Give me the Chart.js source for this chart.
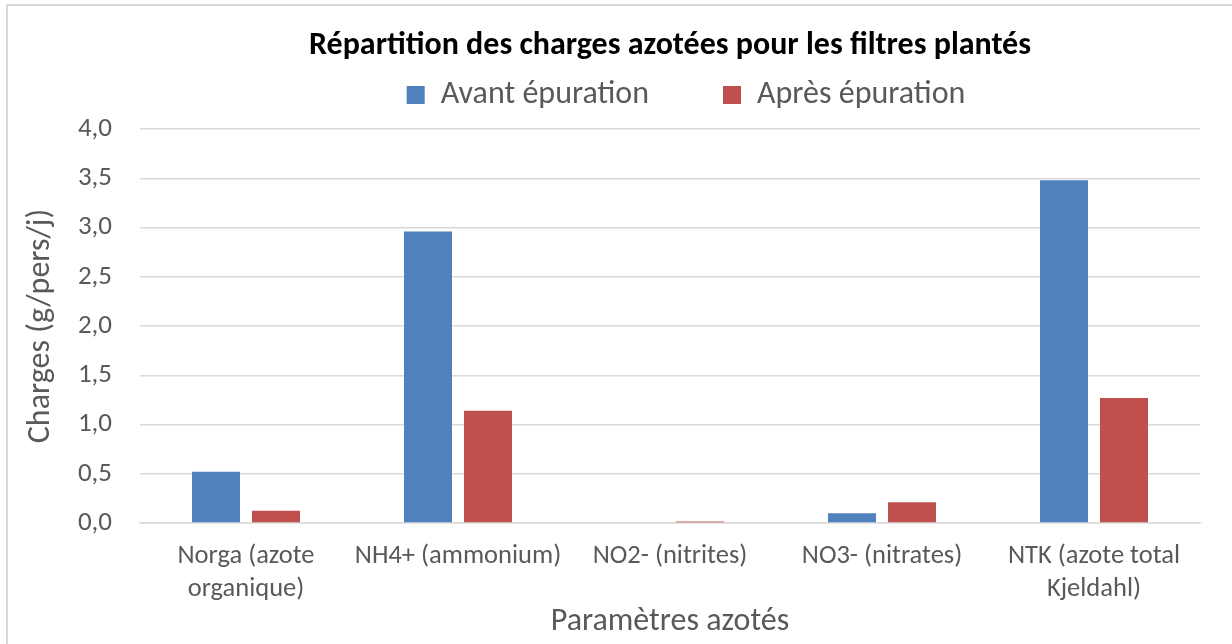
<!DOCTYPE html>
<html>
<head>
<meta charset="utf-8">
<script src="https://cdn.jsdelivr.net/npm/chart.js@4/dist/chart.umd.min.js"></script>
<style>
  body { margin: 0; background: #fff; }
  #wrap { position: relative; width: 1232px; height: 644px; overflow: hidden; }
  #frame { position: absolute; left: 6px; top: 4px; width: 1260px; height: 700px;
           border: 2px solid #d9d9d9; pointer-events: none; }
</style>
</head>
<body>
<div id="wrap">
  <canvas id="chart" width="1232" height="644"></canvas>
  <div id="frame"></div>
</div>
<script>
// données
const categories = [
  ['Norga (azote', 'organique)'],
  'NH4+ (ammonium)',
  'NO2- (nitrites)',
  'NO3- (nitrates)',
  ['NTK (azote total', 'Kjeldahl)']
];
const avantEpuration = [0.52, 2.96, 0, 0.10, 3.48];
const apresEpuration = [0.125, 1.14, 0.015, 0.21, 1.27];
const yTicks = [0, 0.5, 1, 1.5, 2, 2.5, 3, 3.5, 4];

const FONT = 'Carlito, Calibri, Lato, sans-serif';
const GREY = '#595959';

// remonte un peu la légende au-dessus de la zone de tracé
const legendShift = {
  id: 'legendShift',
  afterLayout(chart) {
    const lg = chart.legend;
    if (!lg) return;
    lg.top -= 8; lg.bottom -= 8;
    lg.left += 16; lg.right += 16;
  }
};

const ctx = document.getElementById('chart').getContext('2d');

new Chart(ctx, {
  type: 'bar',
  data: {
    labels: categories,
    datasets: [
      {
        label: 'Avant épuration',
        data: avantEpuration,
        backgroundColor: '#4f81bd',
        borderWidth: 0,
        categoryPercentage: 0.566,
        barPercentage: 0.8,
      },
      {
        label: 'Après épuration',
        data: apresEpuration,
        backgroundColor: '#c0504d',
        borderWidth: 0,
        categoryPercentage: 0.566,
        barPercentage: 0.8,
      },
    ],
  },
  plugins: [legendShift],
  options: {
    responsive: false,
    animation: false,
    layout: { padding: { left: 14, right: 32, top: 0, bottom: 6 } },
    plugins: {
      tooltip: { enabled: false },
      title: {
        display: true,
        text: 'Répartition des charges azotées pour les filtres plantés',
        color: '#000',
        fullSize: false,
        font: { family: FONT, size: 32, weight: 'bold', lineHeight: 1.2 },
        padding: { top: 26.8, bottom: 11.8 },
      },
      legend: {
        display: true,
        fullSize: false,
        labels: {
          color: GREY,
          boxWidth: 18,
          boxHeight: 18,
          padding: 10,
          font: { family: FONT, size: 32 },
          generateLabels(chart) {
            const items = Chart.defaults.plugins.legend.labels.generateLabels(chart);
            // écart entre les deux entrées de la légende
            items[0].text = items[0].text + '\u2003\u2003';
            items.forEach(it => { it.lineWidth = 0; });
            return items;
          },
        },
      },
    },
    scales: {
      x: {
        afterFit(scale) { scale.height = 115; },
        grid: { display: false, drawTicks: false },
        border: { display: true, color: '#d9d9d9', width: 1.5 },
        ticks: {
          color: GREY,
          autoSkip: false,
          maxRotation: 0,
          padding: 17,
          font: { family: FONT, size: 26.5, lineHeight: 1.24 },
        },
        title: {
          display: true,
          text: 'Paramètres azotés',
          color: GREY,
          font: { family: FONT, size: 32, lineHeight: 1.0 },
          padding: { top: 0, bottom: 0 },
        },
      },
      y: {
        min: 0,
        max: 4,
        afterFit(scale) { scale.width = 126; },
        afterBuildTicks(scale) { scale.ticks = yTicks.map(v => ({ value: v })); },
        grid: { color: '#d9d9d9', lineWidth: 1.5, drawTicks: false },
        border: { display: false },
        ticks: {
          color: GREY,
          padding: 28,
          font: { family: FONT, size: 27 },
          callback: v => v.toFixed(1).replace('.', ','),
        },
        title: {
          display: true,
          text: 'Charges (g/pers/j)',
          color: GREY,
          font: { family: FONT, size: 32, lineHeight: 1.0 },
          padding: { top: 11, bottom: 0 },
        },
      },
    },
  },
});
</script>
</body>
</html>
